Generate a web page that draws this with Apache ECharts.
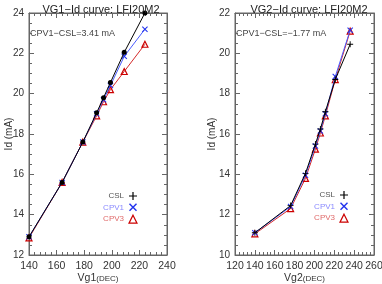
<!DOCTYPE html>
<html>
<head>
<meta charset="utf-8">
<script src="https://cdn.jsdelivr.net/npm/echarts@6/dist/echarts.min.js"></script>
<style>html,body{margin:0;padding:0;background:#fff}#c{width:382px;height:284px}</style>
</head>
<body>
<div id="c"></div>
<script>
// ---- data ----
const vg1 = [140, 164, 179, 189, 194, 199, 209, 224];
const id1CSL  = [12.9, 15.6, 17.6, 19.05, 19.8, 20.55, 22.05, 24.0];
const id1CPV1 = [12.9, 15.6, 17.6, 19.0, 19.7, 20.4, 21.85, 23.2];
const id1CPV3 = [12.85, 15.6, 17.6, 18.9, 19.6, 20.2, 21.1, 22.45];

const vg2 = [140, 176, 191, 201, 206, 211, 221, 236];
const id2CSL  = [11.1, 12.45, 14.05, 15.5, 16.25, 17.1, 18.7, 20.45];
const id2CPV1 = [11.1, 12.4, 13.95, 15.4, 16.15, 17.0, 18.85, 21.15];
const id2CPV3 = [11.05, 12.3, 13.8, 15.25, 16.05, 16.9, 18.7, 21.1];

const titles = ['VG1\u2212Id curve: LFI20M2', 'VG2\u2212Id curve: LFI20M2'];
const notes = ['CPV1\u2212CSL=3.41 mA', 'CPV1\u2212CSL=\u22121.77 mA'];
const seriesNames = ['CSL', 'CPV1', 'CPV3'];

// ---- style ----
const PLUS = 'path://M3.4,0H4.6V3.4H8V4.6H4.6V8H3.4V4.6H0V3.4H3.4Z';
const CROSS = 'path://M0,1L1,0L4,3L7,0L8,1L5,4L8,7L7,8L4,5L1,8L0,7L3,4Z';
const lineCol = ['#000000', '#4a5cff', '#d42a2a'];
const markCol = ['#000000', '#2233ee', '#cc0000'];
const legTextCol = ['#555555', '#8a8aff', '#e06a6a'];
const axisCol = '#666666';
const labCol = '#333333';

function mkX(idx, min, max, name, top) {
  return {
    type: 'value', gridIndex: idx, min: min, max: max, interval: 20,
    position: top ? 'top' : 'bottom',
    axisLine: {show: true, onZero: false, lineStyle: {color: axisCol, width: 1}},
    axisTick: {show: true, inside: true, length: 5, lineStyle: {color: axisCol, width: 1}},
    minorTick: {show: true, splitNumber: 5, length: 3, lineStyle: {color: axisCol, width: 1}},
    axisLabel: {show: !top, fontSize: 10.5, color: labCol, margin: 6, fontFamily: 'Liberation Sans', hideOverlap: false},
    splitLine: {show: false},
    minorSplitLine: {show: false},
    name: top ? '' : name, nameLocation: 'middle', nameGap: 18, nameMoveOverlap: false,
    nameTextStyle: {
      rich: {
        a: {fontSize: 10.5, color: labCol, fontFamily: 'Liberation Sans'},
        b: {fontSize: 8, color: labCol, fontFamily: 'Liberation Sans'}
      }
    }
  };
}
function mkY(idx, min, max, right, gap) {
  return {
    type: 'value', gridIndex: idx, min: min, max: max, interval: 2,
    position: right ? 'right' : 'left',
    axisLine: {show: true, onZero: false, lineStyle: {color: axisCol, width: 1}},
    axisTick: {show: true, inside: true, length: 5, lineStyle: {color: axisCol, width: 1}},
    minorTick: {show: true, splitNumber: 4, length: 3, lineStyle: {color: axisCol, width: 1}},
    axisLabel: {show: !right, fontSize: 10, color: labCol, margin: 5, fontFamily: 'Liberation Sans'},
    splitLine: {show: false},
    minorSplitLine: {show: false},
    name: right ? '' : 'Id (mA)', nameLocation: 'middle', nameGap: gap, nameMoveOverlap: false,
    nameTextStyle: {fontSize: 10, color: labCol, fontFamily: 'Liberation Sans'}
  };
}
function pairs(xs, ys) { return xs.map((x, i) => [x, ys[i]]); }

function mkSeries(gi, xs, ys, k, symbol, size) {
  const hollow = k === 2;
  return {
    type: 'line', name: seriesNames[k], xAxisIndex: gi * 2, yAxisIndex: gi * 2,
    data: pairs(xs, ys), symbol: symbol, symbolSize: size, showSymbol: true,
    lineStyle: {color: lineCol[k], width: 1},
    itemStyle: hollow ? {color: 'rgba(255,255,255,0)', borderColor: markCol[k], borderWidth: 1.2}
                      : {color: markCol[k], borderWidth: 0},
    emphasis: {disabled: true}, animation: false, z: 2 + (2 - k)
  };
}

function mkLegend(left, top, w) {
  return {
    orient: 'vertical', left: left, top: top, align: 'right',
    itemWidth: 8, itemHeight: 8, itemGap: 3.3, padding: 0,
    selectedMode: false,
    formatter: '{a|{name}}',
    textStyle: {fontSize: 8, fontFamily: 'Liberation Sans', rich: {a: {width: w, fontSize: 8, lineHeight: 8}}},
    data: [
      {name: 'CSL', icon: PLUS, itemStyle: {color: markCol[0]}, textStyle: {color: legTextCol[0], rich: {a: {color: legTextCol[0], width: w, fontSize: 8}}}},
      {name: 'CPV1', icon: CROSS, itemStyle: {color: markCol[1]}, textStyle: {color: legTextCol[1], rich: {a: {color: legTextCol[1], width: w, fontSize: 8}}}},
      {name: 'CPV3', icon: 'triangle', itemStyle: {color: 'rgba(255,255,255,0)', borderColor: markCol[2], borderWidth: 1.2}, textStyle: {color: legTextCol[2], rich: {a: {color: legTextCol[2], width: w, fontSize: 8}}}}
    ]
  };
}

const chart = echarts.init(document.getElementById('c'), null, {renderer: 'canvas'});
chart.setOption({
  backgroundColor: '#ffffff',
  animation: false,
  title: [
    {text: titles[0], left: 96, top: -1, textAlign: 'center', textStyle: {fontSize: 11, fontWeight: 'normal', color: '#222', fontFamily: 'Liberation Sans'}},
    {text: titles[1], left: 304, top: -1, textAlign: 'center', textStyle: {fontSize: 11, fontWeight: 'normal', color: '#222', fontFamily: 'Liberation Sans'}}
  ],
  grid: [
    {left: 29, right: 215, top: 13, bottom: 29, show: true, borderColor: axisCol, borderWidth: 1, containLabel: false, outerBoundsMode: 'none'},
    {left: 235, right: 8, top: 13, bottom: 29, show: true, borderColor: axisCol, borderWidth: 1, containLabel: false, outerBoundsMode: 'none'}
  ],
  xAxis: [
    mkX(0, 140, 240, '{a|Vg1}{b|(DEC)}', false),
    mkX(0, 140, 240, '', true),
    mkX(1, 120, 260, '{a|Vg2}{b|(DEC)}', false),
    mkX(1, 120, 260, '', true)
  ],
  yAxis: [
    mkY(0, 12, 24, false, 15),
    mkY(0, 12, 24, true, 0),
    mkY(1, 10, 22, false, 18),
    mkY(1, 10, 22, true, 0)
  ],
  legend: [mkLegend(98, 192, 26), mkLegend(313, 191, 22)],
  graphic: [
    {type: 'text', left: 30, top: 29, style: {text: notes[0], fontSize: 9, fill: '#444', fontFamily: 'Liberation Sans'}},
    {type: 'text', left: 236, top: 29, style: {text: notes[1], fontSize: 9, fill: '#444', fontFamily: 'Liberation Sans'}}
  ],
  series: [
    mkSeries(0, vg1, id1CSL, 0, 'circle', 5),
    mkSeries(0, vg1, id1CPV1, 1, CROSS, 6),
    mkSeries(0, vg1, id1CPV3, 2, 'triangle', 6),
    mkSeries(1, vg2, id2CSL, 0, PLUS, 6),
    mkSeries(1, vg2, id2CPV1, 1, CROSS, 6),
    mkSeries(1, vg2, id2CPV3, 2, 'triangle', 6)
  ]
});
</script>
</body>
</html>
